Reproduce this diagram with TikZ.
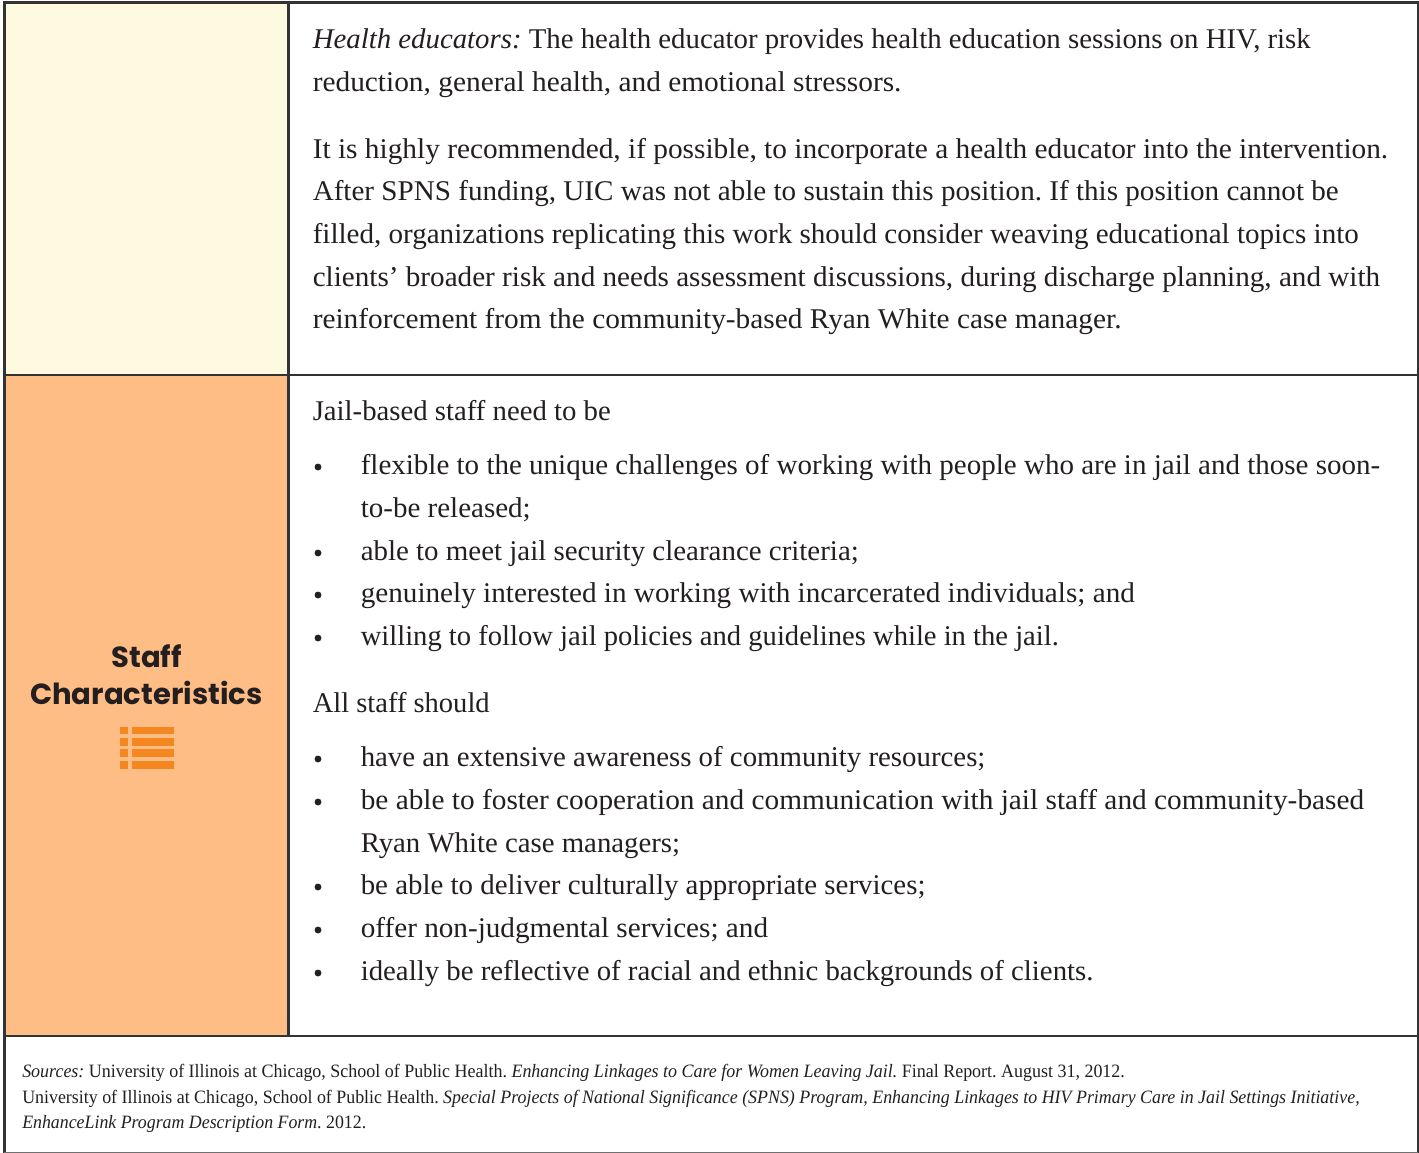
\documentclass[tikz,border=0pt]{standalone}
\usepackage{fontspec}
\usepackage{graphicx}
\setmainfont{Liberation Serif}
\newfontfamily\headfont{Poppins}[BoldFont=* Bold]
\definecolor{rulecol}{HTML}{333333}
\definecolor{creamcol}{HTML}{FDFADF}
\definecolor{peachcol}{HTML}{FDBD84}
\definecolor{iconcol}{HTML}{F58720}
\definecolor{inkcol}{HTML}{231F20}
\newcommand{\bodyline}[5]{\node[anchor=base west,inner sep=0pt,text=inkcol] (#1) at (#2,#3) {\resizebox{#4 bp}{\height}{\frenchspacing\fontsize{21.5}{24}\selectfont #5}};}
\newcommand{\srcline}[5]{\node[anchor=base west,inner sep=0pt,text=inkcol] (#1) at (#2,#3) {\resizebox{#4 bp}{\height}{\frenchspacing\fontsize{14.2}{16}\selectfont #5}};}
\newcommand{\bulletdot}[2]{\node[circle,fill=inkcol,inner sep=0pt,minimum size=5.2pt] (#1) at (318,#2) {};}
\begin{document}
\begin{tikzpicture}[x=0.75bp,y=-0.75bp,
  gridline/.style={draw=rulecol,line width=2.2bp},
  headtext/.style={anchor=base,inner sep=0pt,text=inkcol,font=\headfont\bfseries\fontsize{21.9}{26}\selectfont}]
\useasboundingbox (0,0) rectangle (1419,1153);
\fill[white] (0,0) rectangle (1419,1153);
\fill[creamcol] (5,3) rectangle (288,375);
\fill[peachcol] (5,375) rectangle (288,1036);
\draw[gridline] (4.5,2.5) -- (1418,2.5);
\draw[gridline] (4.5,375) -- (1418,375);
\draw[gridline] (4.5,1036) -- (1418,1036);
\draw[gridline] (4.5,1.5) -- (4.5,1153);
\draw[gridline] (288.5,2.5) -- (288.5,1036);
\draw[gridline] (1418,1.5) -- (1418,1153);
\draw[draw=rulecol!70,line width=1.2bp] (4,1152.5) -- (1418,1152.5);
% heading
\node[headtext] (staff) at (146.5,667) {Staff};
\node[headtext] (chars) at (146.5,704.5) {Characteristics};
% icon
\foreach \ya/\yb in {726.7/734.3,738/745.5,749.3/757,761/768.5}{
  \fill[iconcol] (120,\ya) rectangle (127.7,\yb);
  \fill[iconcol] (131.5,\ya) rectangle (173.5,\yb);
}
% top cell
\bodyline{t1}{312.5}{48.7}{748.5}{\textit{Health educators:} The health educator provides health education sessions on HIV, risk}
\bodyline{t2}{312.5}{91.5}{441.5}{reduction, general health, and emotional stressors.}
\bodyline{t3}{312.5}{158.5}{806.5}{It is highly recommended, if possible, to incorporate a health educator into the intervention.}
\bodyline{t4}{312.5}{200.7}{769.5}{After SPNS funding, UIC was not able to sustain this position. If this position cannot be}
\bodyline{t5}{312.5}{243.5}{784.5}{filled, organizations replicating this work should consider weaving educational topics into}
\bodyline{t6}{312.5}{286.3}{800.5}{clients’ broader risk and needs assessment discussions, during discharge planning, and with}
\bodyline{t7}{312.5}{328.5}{606.5}{reinforcement from the community-based Ryan White case manager.}
% staff cell
\bodyline{j0}{312.5}{420}{223.5}{Jail-based staff need to be}
\bulletdot{b1}{467}
\bodyline{j1}{360.5}{474}{764.5}{flexible to the unique challenges of working with people who are in jail and those soon-}
\bodyline{j2}{360.5}{517}{127.5}{to-be released;}
\bulletdot{b2}{553}
\bodyline{j3}{360.5}{560}{373.5}{able to meet jail security clearance criteria;}
\bulletdot{b3}{595}
\bodyline{j4}{360.5}{602}{580.5}{genuinely interested in working with incarcerated individuals; and}
\bulletdot{b4}{638}
\bodyline{j5}{360.5}{645}{523.5}{willing to follow jail policies and guidelines while in the jail.}
\bodyline{a0}{312.5}{712}{132.7}{All staff should}
\bulletdot{b5}{759}
\bodyline{a1}{360.5}{766}{468.5}{have an extensive awareness of community resources;}
\bulletdot{b6}{802}
\bodyline{a2}{360.5}{809}{752.5}{be able to foster cooperation and communication with jail staff and community-based}
\bodyline{a3}{360.5}{852}{239.5}{Ryan White case managers;}
\bulletdot{b7}{887}
\bodyline{a4}{360.5}{894}{423.5}{be able to deliver culturally appropriate services;}
\bulletdot{b8}{930}
\bodyline{a5}{360.5}{937}{305.5}{offer non-judgmental services; and}
\bulletdot{b9}{973}
\bodyline{a6}{360.5}{980}{549.5}{ideally be reflective of racial and ethnic backgrounds of clients.}
% sources
\srcline{s1}{22}{1077}{827}{\textit{Sources:} University of Illinois at Chicago, School of Public Health. \textit{Enhancing Linkages to Care for Women Leaving Jail.} Final Report. August 31, 2012.}
\srcline{s2}{22}{1103.3}{1003}{University of Illinois at Chicago, School of Public Health. \textit{Special Projects of National Significance (SPNS) Program, Enhancing Linkages to HIV Primary Care in Jail Settings Initiative,}}
\srcline{s3}{22}{1128}{258}{\textit{EnhanceLink Program Description Form}. 2012.}
\end{tikzpicture}
\end{document}
